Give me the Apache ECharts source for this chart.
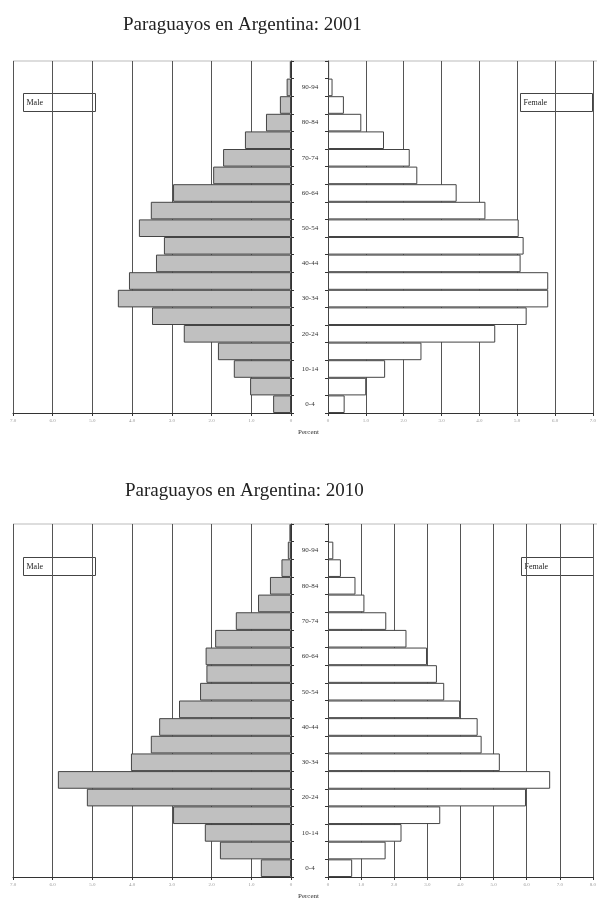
<!DOCTYPE html>
<html>
<head>
<meta charset="utf-8">
<script src="https://cdn.jsdelivr.net/npm/echarts@6/dist/echarts.min.js"></script>
<style>
html,body{margin:0;padding:0;background:#fff;}
#chart{width:599px;height:902px;}
</style>
</head>
<body>
<div id="chart"></div>
<script>
// Age groups (bottom to top)
const categories = ['0-4','5-9','10-14','15-19','20-24','25-29','30-34','35-39','40-44','45-49','50-54','55-59','60-64','65-69','70-74','75-79','80-84','85-89','90-94','95+'];

// 2001 (percent of total)
const male2001   = [0.45,1.03,1.44,1.84,2.70,3.50,4.36,4.08,3.40,3.20,3.83,3.53,2.97,1.96,1.71,1.16,0.63,0.28,0.11,0.03];
const female2001 = [0.44,1.01,1.51,2.47,4.42,5.25,5.82,5.82,5.09,5.17,5.04,4.16,3.40,2.36,2.16,1.48,0.88,0.42,0.12,0.03];

// 2010 (percent of total)
const male2010   = [0.76,1.79,2.17,2.97,5.14,5.87,4.03,3.53,3.32,2.82,2.29,2.13,2.15,1.91,1.39,0.83,0.53,0.24,0.08,0.04];
const female2010 = [0.73,1.74,2.22,3.39,5.98,6.71,5.19,4.64,4.52,3.99,3.51,3.29,2.99,2.37,1.76,1.10,0.83,0.39,0.16,0.03];

const titles = ['Paraguayos en Argentina: 2001','Paraguayos en Argentina: 2010'];
const axisName = 'Percent';
const legendMale = 'Male';
const legendFemale = 'Female';

// axis ranges (percent)
const maleMax2001 = 7, femaleMax2001 = 7;
const maleMax2010 = 7, femaleMax2010 = 8;

const serif = '"Liberation Serif","DejaVu Serif",serif';
const chart = echarts.init(document.getElementById('chart'), null, {renderer:'canvas'});

function xAx(gi, max, inverse){
  return {
    type:'value', gridIndex:gi, min:0, max:max, interval:1, inverse:inverse,
    axisLine:{show:true, lineStyle:{color:'#333', width:1}},
    axisTick:{show:true, length:3, lineStyle:{color:'#333'}},
    axisLabel:{fontSize:5, color:'#999', margin:5, fontFamily:serif,
      formatter:function(v){return v===0?'0':v.toFixed(1);}},
    splitLine:{show:true, lineStyle:{color:'#555', width:1}}
  };
}
function yAx(gi, pos, showLabel){
  return {
    type:'category', gridIndex:gi, data:categories, position:pos,
    axisLine:{show:true, onZero:false, lineStyle:{color:'#333', width:1}},
    axisTick:{show:true, interval:0, length:3, lineStyle:{color:'#333'}},
    axisLabel:{show:showLabel, interval:1, align:'center', margin:19, fontSize:7, color:'#333', fontFamily:serif},
    splitLine:{show:false}
  };
}
function bar(gi, data, color){
  return {
    type:'bar', xAxisIndex:gi, yAxisIndex:gi, data:data, barCategoryGap:'0%',
    itemStyle:{color:color, borderColor:'#444', borderWidth:1},
    silent:true
  };
}
function legendBox(x, y, text){
  return {
    type:'group', left:x, top:y,
    children:[
      {type:'rect', shape:{x:0,y:0,width:72,height:18}, style:{fill:'#fff', stroke:'#444', lineWidth:1}},
      {type:'text', left:3, top:5, style:{text:text, font:'8px '+serif, fill:'#222'}}
    ]
  };
}

const option = {
  backgroundColor:'#fff',
  animation:false,
  title:[
    {text:titles[0], left:118, top:11, textStyle:{fontFamily:serif, fontSize:19, fontWeight:'normal', color:'#222'}},
    {text:titles[1], left:120, top:477, textStyle:{fontFamily:serif, fontSize:19, fontWeight:'normal', color:'#222'}}
  ],
  grid:[
    {left:13, top:61, width:278, height:352},
    {left:328, top:61, width:269, height:352},
    {left:13, top:524, width:278, height:353},
    {left:328, top:524, width:269, height:353}
  ],
  xAxis:[
    xAx(0, maleMax2001, true),
    xAx(1, femaleMax2001, false),
    xAx(2, maleMax2010, true),
    xAx(3, femaleMax2010, false)
  ],
  yAxis:[
    yAx(0,'right',true),
    yAx(1,'left',false),
    yAx(2,'right',true),
    yAx(3,'left',false)
  ],
  series:[
    bar(0, male2001, '#c0c0c0'),
    bar(1, female2001, '#ffffff'),
    bar(2, male2010, '#c0c0c0'),
    bar(3, female2010, '#ffffff')
  ],
  graphic:[
    {type:'line', shape:{x1:13,y1:61,x2:597,y2:61}, style:{stroke:'#bbb', lineWidth:1}},
    {type:'line', shape:{x1:13,y1:524,x2:597,y2:524}, style:{stroke:'#bbb', lineWidth:1}},
    legendBox(23, 93, legendMale),
    legendBox(520, 93, legendFemale),
    legendBox(23, 557, legendMale),
    legendBox(521, 557, legendFemale),
    {type:'text', left:298, top:429, style:{text:axisName, font:'7px '+serif, fill:'#333'}},
    {type:'text', left:298, top:893, style:{text:axisName, font:'7px '+serif, fill:'#333'}}
  ]
};
chart.setOption(option);
</script>
</body>
</html>
